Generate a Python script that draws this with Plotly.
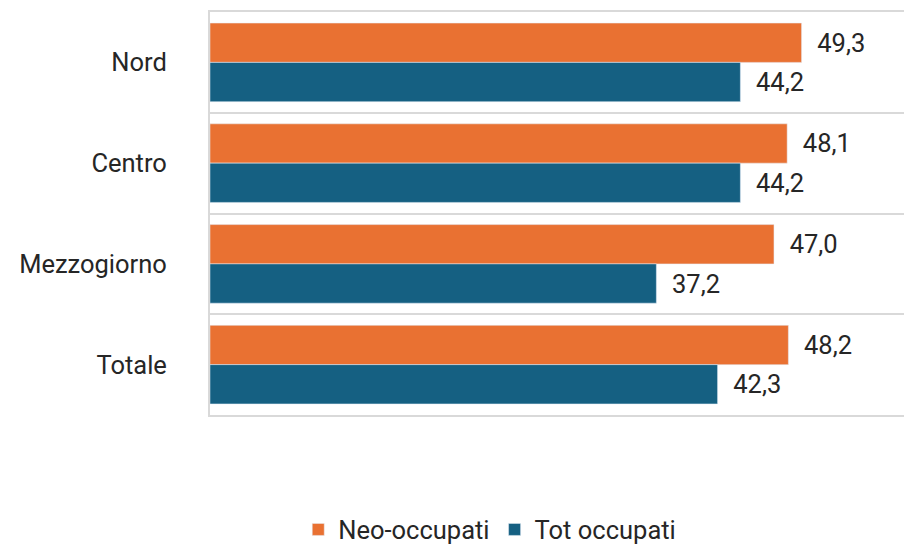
import plotly.graph_objs as go

categorie = ["Nord", "Centro", "Mezzogiorno", "Totale"]
neo_occupati = [49.3, 48.1, 47.0, 48.2]
tot_occupati = [44.2, 44.2, 37.2, 42.3]

fig = go.Figure()

fig.add_trace(
    go.Bar(
        y=categorie,
        x=neo_occupati,
        name="Neo-occupati",
        orientation="h",
        marker_color="#E97132",
        texttemplate="  %{x:.1f}",
        textposition="outside",
        cliponaxis=False,
    )
)
fig.add_trace(
    go.Bar(
        y=categorie,
        x=tot_occupati,
        name="Tot occupati",
        orientation="h",
        marker_color="#156082",
        texttemplate="  %{x:.1f}",
        textposition="outside",
        cliponaxis=False,
    )
)

# la pagina html ha 8px di margine sul body: posizioni compensate
fig.update_layout(
    width=912,
    height=545,
    margin=dict(l=202, r=0, t=4, b=138, autoexpand=False),
    paper_bgcolor="white",
    plot_bgcolor="white",
    separators=", ",
    font=dict(family="Roboto, Liberation Sans, sans-serif", size=25.5, color="#262626"),
    barmode="group",
    bargap=0.22,
    bargroupgap=0,
    showlegend=True,
    legend=dict(
        orientation="h",
        x=0.394,
        xanchor="center",
        y=-0.285,
        yanchor="middle",
        font=dict(size=25.5),
        itemwidth=30,
    ),
    xaxis=dict(
        range=[0, 59.17],
        showgrid=False,
        zeroline=False,
        showticklabels=False,
        showline=True,
        mirror=True,
        linecolor="#d9d9d9",
        linewidth=2,
        automargin=False,
    ),
    yaxis=dict(
        autorange="reversed",
        tickson="boundaries",
        showgrid=True,
        gridcolor="#d9d9d9",
        gridwidth=2,
        showline=True,
        linecolor="#d9d9d9",
        linewidth=2,
        ticks="",
        ticklabelstandoff=36,
        automargin=False,
    ),
)

fig.write_html("out.html")
